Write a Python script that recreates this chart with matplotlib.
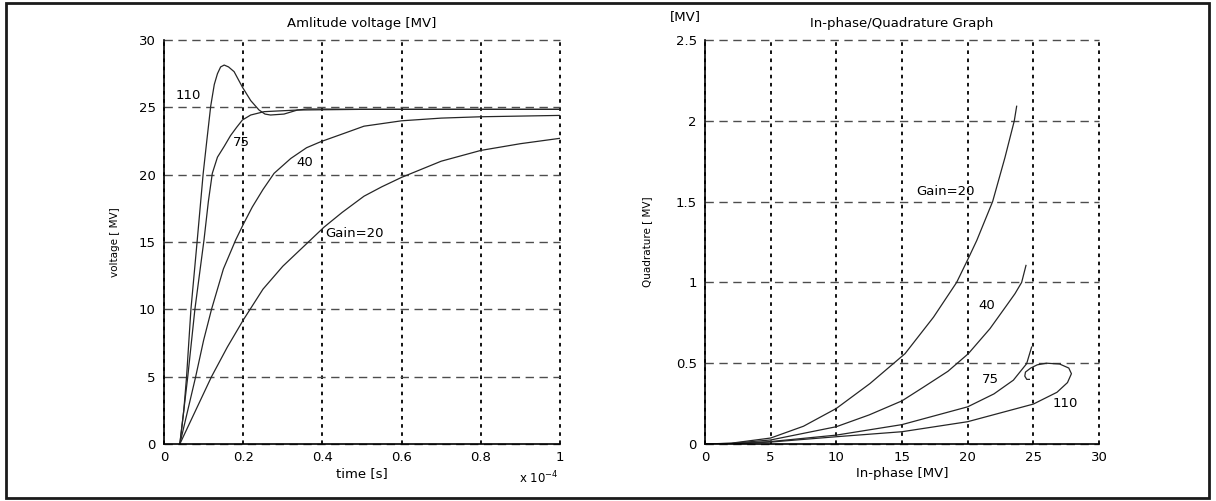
import matplotlib
matplotlib.use("Agg")
import matplotlib.pyplot as plt
from matplotlib.patches import Rectangle

plt.rcParams['font.family'] = ['DejaVu Sans']
plt.rcParams['font.size'] = 9.5

# amplitude vs time (time in units of 1e-4 s)
t110 = [0.04, 0.05, 0.057, 0.068, 0.084, 0.099, 0.108, 0.118, 0.127, 0.135, 0.143, 0.152, 0.163,
        0.177, 0.198, 0.219, 0.24, 0.255, 0.269, 0.303, 0.337, 0.362, 0.5, 1.0]
v110 = [0, 2.5, 5, 10, 15.15, 20.1, 22.5, 25.1, 26.7, 27.5, 28.0, 28.14, 28.0,
        27.65, 26.5, 25.5, 24.8, 24.5, 24.43, 24.5, 24.8, 24.88, 24.85, 24.85]
t75 = [0.04, 0.06, 0.078, 0.101, 0.112, 0.122, 0.135, 0.152, 0.168, 0.183, 0.198, 0.219, 0.253,
       0.337, 0.5, 1.0]
v75 = [0, 5, 10, 15.15, 18, 20.1, 21.3, 22.1, 22.9, 23.5, 24.06, 24.43, 24.68,
       24.8, 24.85, 24.85]
t40 = [0.04, 0.06, 0.08, 0.1, 0.12, 0.15, 0.181, 0.2, 0.223, 0.25, 0.278, 0.32, 0.36, 0.396, 0.455,
       0.505, 0.6, 0.7, 0.8, 0.9, 1.0]
v40 = [0, 2.5, 5, 7.7, 10, 13, 15.15, 16.3, 17.6, 18.9, 20.1, 21.2, 22.0, 22.45, 23.07,
       23.6, 24.0, 24.2, 24.3, 24.35, 24.4]
t20 = [0.04, 0.08, 0.12, 0.16, 0.2, 0.25, 0.3, 0.37, 0.404, 0.45, 0.505, 0.55, 0.6, 0.7, 0.8, 0.9, 1.0]
v20 = [0, 2.5, 5, 7.2, 9.2, 11.5, 13.2, 15.15, 16.1, 17.2, 18.4, 19.1, 19.8, 21.0, 21.8, 22.3, 22.7]

# in-phase / quadrature
i20 = [0, 2, 5, 7.5, 10, 12.56, 15.23, 17.4, 19.16, 19.97, 20.69, 21.9, 22.84, 23.55, 23.73]
q20 = [0, 0.005, 0.037, 0.11, 0.22, 0.374, 0.559, 0.785, 1.0, 1.135, 1.259, 1.5, 1.773, 2.0, 2.09]
i40 = [0, 2, 5, 10, 12.5, 15, 16.6, 18.5, 20.05, 21.7, 22.97, 23.6, 24.11, 24.44]
q40 = [0, 0.004, 0.025, 0.107, 0.18, 0.267, 0.35, 0.45, 0.559, 0.714, 0.858, 0.93, 1.0, 1.105]
i75 = [0, 2, 5, 10, 15, 20, 22.0, 23.48, 24.49, 24.87]
q75 = [0, 0.002, 0.015, 0.055, 0.12, 0.23, 0.31, 0.395, 0.497, 0.60]
i110 = [0, 2, 5, 10, 15, 20, 25, 26.8, 27.6, 27.9, 27.7, 27, 26, 25.3, 24.8, 24.4, 24.35, 24.5, 24.7]
q110 = [0, 0.002, 0.012, 0.045, 0.076, 0.138, 0.247, 0.32, 0.38, 0.435, 0.47, 0.495, 0.50, 0.49,
        0.47, 0.445, 0.42, 0.40, 0.40]

W, H = 1216, 501
fig = plt.figure(figsize=(W / 100, H / 100), dpi=100)

def style(ax):
    for s in ['top', 'right']:
        ax.spines[s].set_visible(False)
    for s in ['left', 'bottom']:
        ax.spines[s].set_linewidth(1.2)
        ax.spines[s].set_zorder(5)
    ax.tick_params(length=0, pad=6)
    ax.tick_params(axis='x', pad=5)
    ax.yaxis.grid(True, linestyle=(0, (6, 4)), color='0.3', linewidth=1.0)
    ax.xaxis.grid(True, linestyle=(0, (2, 2.5)), color='black', linewidth=1.3)
    ax.set_axisbelow(True)
    for gl in ax.get_xgridlines() + ax.get_ygridlines():
        gl.set_clip_on(False)  # so the lines on the limits are drawn whole

lc = '0.15'
lw = 0.9

ax1 = fig.add_axes([164 / W, 57 / H, 396 / W, 404 / H])
for t, v in [(t110, v110), (t75, v75), (t40, v40), (t20, v20)]:
    ax1.plot(t, v, color=lc, lw=lw)
ax1.set_xlim(0, 1)
ax1.set_ylim(0, 30)
ax1.set_xticks([0, 0.2, 0.4, 0.6, 0.8, 1])
ax1.set_xticklabels(['0', '0.2', '0.4', '0.6', '0.8', '1'])
ax1.set_yticks([0, 5, 10, 15, 20, 25, 30])
style(ax1)
ax1.set_title('Amlitude voltage [MV]', pad=9, fontsize=9.5)
ax1.set_xlabel('time [s]', labelpad=2)
ax1.set_ylabel('voltage [ MV]', fontsize=7.5)
ax1.yaxis.set_label_coords(-0.111, 0.5)
ax1.text(0.03, 25.9, '110', va='center')
ax1.text(0.175, 22.4, '75', va='center')
ax1.text(0.335, 20.9, '40', va='center')
ax1.text(0.407, 15.6, 'Gain=20', va='center')
fig.text(558 / W, 1 - 478 / H, 'x 10$^{-4}$', ha='right', va='center', fontsize=8.5)

ax2 = fig.add_axes([705 / W, 57 / H, 394 / W, 404 / H])
for i, q in [(i20, q20), (i40, q40), (i75, q75), (i110, q110)]:
    ax2.plot(i, q, color=lc, lw=lw)
ax2.set_xlim(0, 30)
ax2.set_ylim(0, 2.5)
ax2.set_xticks([0, 5, 10, 15, 20, 25, 30])
ax2.set_yticks([0, 0.5, 1, 1.5, 2, 2.5])
ax2.set_yticklabels(['0', '0.5', '1', '1.5', '2', '2.5'])
style(ax2)
ax2.set_title('In-phase/Quadrature Graph', pad=9, fontsize=9.5)
ax2.set_xlabel('In-phase [MV]', labelpad=2)
ax2.set_ylabel('Quadrature [ MV]', fontsize=7.5)
ax2.yaxis.set_label_coords(-0.135, 0.5)
ax2.text(16.1, 1.56, 'Gain=20', va='center')
ax2.text(20.8, 0.86, '40', va='center')
ax2.text(21.1, 0.40, '75', va='center')
ax2.text(26.5, 0.25, '110', va='center')
fig.text(685 / W, 1 - 17 / H, '[MV]', ha='center', va='center')

# outer frame
fig.patches.append(Rectangle((6 / W, 3 / H), 1203 / W, 495 / H, transform=fig.transFigure,
                             fill=False, edgecolor='0.1', linewidth=2))

fig.savefig('out.png', dpi=100, facecolor='white')
